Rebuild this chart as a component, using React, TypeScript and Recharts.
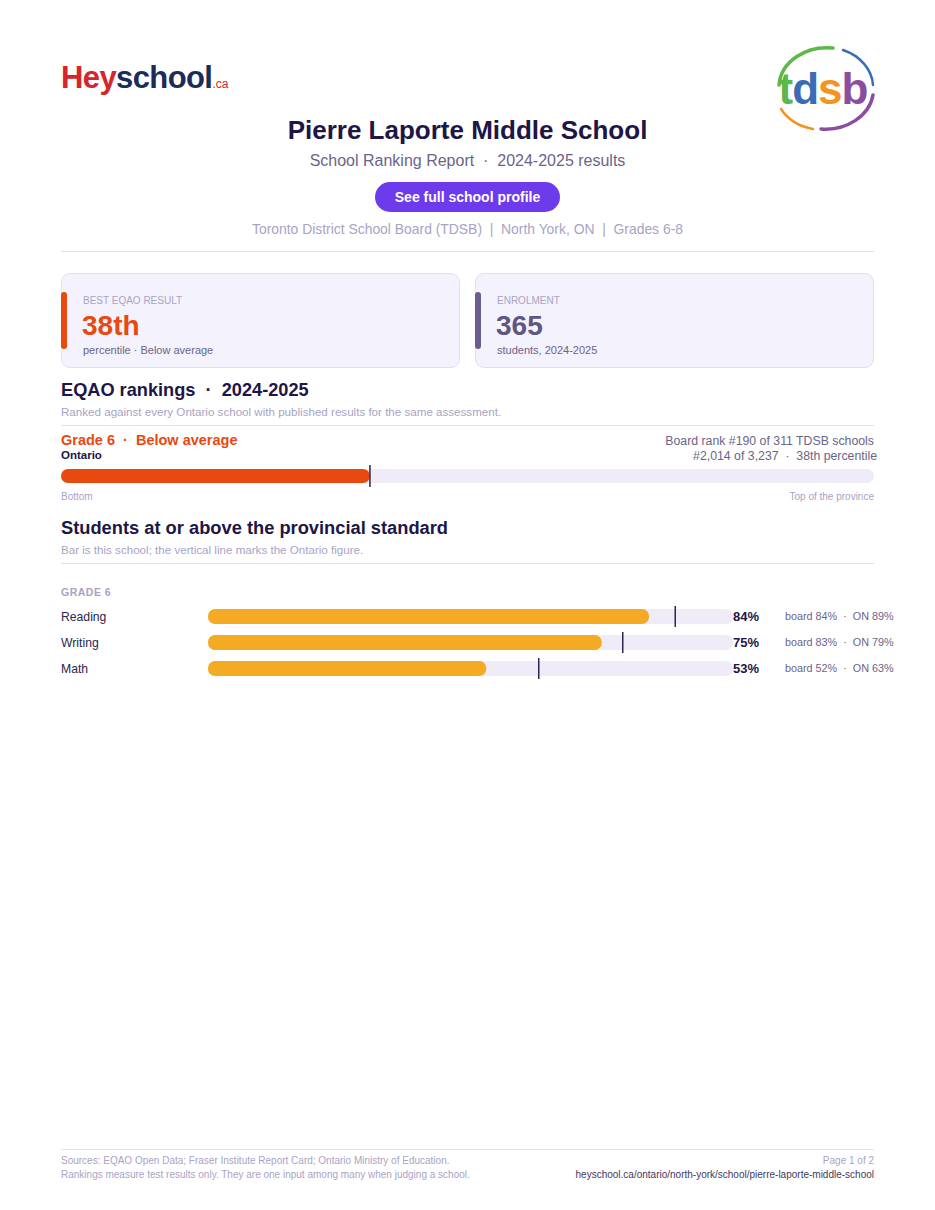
import React from 'react';
import { BarChart, Bar, XAxis, YAxis, ReferenceLine } from 'recharts';

// ranking (percentile within Ontario)
const rankLabel = ['Ontario'];
const rankPercentile = [38];

// grade 6 subjects
const subjects = ['Reading', 'Writing', 'Math'];
const schoolPct = [84, 75, 53];
const boardPct = [84, 83, 52];
const ontarioPct = [89, 79, 63];

const FONT = '"Liberation Sans", Arial, Helvetica, sans-serif';
const INK = '#201646';
const MUTED = '#6b6488';
const FAINT = '#a9a3c4';
const ORANGE = '#e8490f';
const GOLD = '#f4aa22';
const TRACK = '#efecf8';
const MARK = '#2d2450';
const NB = '\u00a0';

const rankData = rankLabel.map((name, i) => ({ name, value: rankPercentile[i] }));
const subjectData = subjects.map((subject, i) => ({
  subject,
  school: schoolPct[i],
  board: boardPct[i],
  ontario: ontarioPct[i],
}));

type TProps = {
  x?: number;
  right?: number;
  y: number;
  size: number;
  color?: string;
  weight?: number;
  center?: boolean;
  spacing?: number;
  children: React.ReactNode;
};

const T: React.FC<TProps> = ({ x, right, y, size, color = INK, weight = 400, center, spacing, children }) => (
  <div
    style={{
      position: 'absolute',
      top: y,
      left: center ? 0 : x,
      right: center ? 0 : right,
      textAlign: center ? 'center' : right !== undefined ? 'right' : 'left',
      fontSize: size,
      lineHeight: 1,
      color,
      fontWeight: weight,
      letterSpacing: spacing,
      whiteSpace: 'pre',
    }}
  >
    {children}
  </div>
);

const Rule: React.FC<{ y: number }> = ({ y }) => (
  <div style={{ position: 'absolute', left: 61, width: 813, top: y, height: 1, background: '#e4e1ef' }} />
);

const Card: React.FC<{ x: number; accent: string; label: string; value: string; valueColor: string; note: string }> = ({
  x, accent, label, value, valueColor, note,
}) => (
  <div
    style={{
      position: 'absolute',
      left: x,
      top: 273,
      width: 399,
      height: 95,
      boxSizing: 'border-box',
      background: '#f4f2fc',
      border: '1px solid #e3def5',
      borderRadius: 9,
    }}
  >
    <div style={{ position: 'absolute', left: -1, top: 18, width: 6, height: 57, background: accent, borderRadius: 3 }} />
    <T x={21} y={22} size={10} color={FAINT}>{label}</T>
    <T x={20} y={38} size={28} color={valueColor} weight={700}>{value}</T>
    <T x={21} y={71} size={11} color={MUTED}>{note}</T>
  </div>
);

const TdsbLogo: React.FC = () => (
  <svg width={104} height={90} style={{ position: 'absolute', left: 773, top: 45 }}>
    <path d="M 6 40 A 48 40 0 0 1 60 3" fill="none" stroke="#5db84a" strokeWidth={3.5} strokeLinecap="round" />
    <path d="M 70 5 A 48 40 0 0 1 100 40" fill="none" stroke="#3a6db5" strokeWidth={2.5} strokeLinecap="round" />
    <path d="M 100 50 A 48 40 0 0 1 48 84" fill="none" stroke="#8a4ea0" strokeWidth={3.5} strokeLinecap="round" />
    <path d="M 40 84 A 48 40 0 0 1 8 64" fill="none" stroke="#f39422" strokeWidth={2.5} strokeLinecap="round" />
    <text x={50} y={59} textAnchor="middle" fontFamily={FONT} fontWeight={700} fontSize={44} letterSpacing={-1}>
      <tspan fill="#5db84a">t</tspan>
      <tspan fill="#3a6db5">d</tspan>
      <tspan fill="#f39422">s</tspan>
      <tspan fill="#8a4ea0">b</tspan>
    </text>
  </svg>
);

const SubjectTick = (props: any) => {
  const { y, payload } = props;
  return (
    <text x={0} y={y} dy={4.5} fontFamily={FONT} fontSize={12.2} fill="#2d2650">
      {payload.value}
    </text>
  );
};

const ValueTick = (props: any) => {
  const { y, index } = props;
  const row = subjectData[index];
  return (
    <g>
      <text x={672} y={y} dy={4.5} fontFamily={FONT} fontSize={13} fontWeight={700} fill={INK}>
        {row.school}%
      </text>
      <text x={724} y={y} dy={4} fontFamily={FONT} fontSize={10.8} fill={MUTED}>
        {`board ${row.board}%${NB}${NB}·${NB}${NB}ON ${row.ontario}%`}
      </text>
    </g>
  );
};

const OntarioMarker = (props: any) => {
  const { x, y, width, height } = props;
  const lx = x + width;
  return <line x1={lx} x2={lx} y1={y - 3} y2={y + height + 3} stroke={MARK} strokeWidth={1.5} />;
};

export default function App() {
  return (
    <div
      style={{
        position: 'absolute',
        left: 0,
        top: 0,
        width: 935,
        height: 1210,
        background: '#fff',
        fontFamily: FONT,
        overflow: 'hidden',
      }}
    >
      {/* heyschool logo */}
      <div style={{ position: 'absolute', left: 61, top: 62, fontSize: 31, fontWeight: 700, lineHeight: 1, letterSpacing: -0.6, whiteSpace: 'nowrap' }}>
        <span style={{ color: '#d7252c' }}>Hey</span>
        <span style={{ color: '#1d2b5b' }}>school</span>
        <span style={{ color: '#d7252c', fontSize: 12, fontWeight: 400, letterSpacing: 0, marginLeft: 0 }}>.ca</span>
      </div>
      <TdsbLogo />

      <T center y={117} size={26} weight={700}>Pierre Laporte Middle School</T>
      <T center y={153} size={16} color={MUTED}>School Ranking Report  ·  2024-2025 results</T>
      <div
        style={{
          position: 'absolute',
          left: 375,
          top: 182,
          width: 185,
          height: 30,
          borderRadius: 15,
          background: '#6e3bec',
          color: '#fff',
          fontSize: 14,
          fontWeight: 700,
          lineHeight: '30px',
          textAlign: 'center',
        }}
      >
        See full school profile
      </div>
      <T center y={223} size={13.9} color={FAINT}>Toronto District School Board (TDSB)  |  North York, ON  |  Grades 6-8</T>
      <Rule y={251} />

      <Card x={61} accent={ORANGE} label="BEST EQAO RESULT" value="38th" valueColor={ORANGE} note="percentile · Below average" />
      <Card x={475} accent="#6b5e8e" label="ENROLMENT" value="365" valueColor="#5f5583" note="students, 2024-2025" />

      <T x={61} y={381} size={18.2} weight={700}>EQAO rankings  ·  2024-2025</T>
      <T x={61} y={406} size={11.6} color={FAINT}>Ranked against every Ontario school with published results for the same assessment.</T>
      <Rule y={425} />

      <T x={61} y={433} size={14.5} weight={700} color={ORANGE}>Grade 6  ·  Below average</T>
      <T x={61} y={450} size={11.5} weight={700}>Ontario</T>
      <T right={61} y={435} size={12.3} color={MUTED}>Board rank #190 of 311 TDSB schools</T>
      <T right={58} y={450} size={12.3} color={MUTED}>#2,014 of 3,237  ·  38th percentile</T>

      <div style={{ position: 'absolute', left: 61, top: 465 }}>
        <BarChart width={813} height={22} data={rankData} layout="vertical" margin={{ top: 0, right: 0, bottom: 0, left: 0 }}>
          <XAxis type="number" domain={[0, 100]} hide />
          <YAxis type="category" dataKey="name" hide />
          <Bar
            dataKey="value"
            barSize={14}
            fill={ORANGE}
            radius={7}
            background={{ fill: TRACK, radius: 7 } as any}
            isAnimationActive={false}
          />
          <ReferenceLine x={rankPercentile[0]} stroke={MARK} strokeWidth={1.5} />
        </BarChart>
      </div>
      <T x={61} y={492} size={10} color={FAINT}>Bottom</T>
      <T right={61} y={492} size={10} color={FAINT}>Top of the province</T>

      <T x={61} y={519} size={18.3} weight={700}>Students at or above the provincial standard</T>
      <T x={61} y={544} size={11.6} color={FAINT}>Bar is this school; the vertical line marks the Ontario figure.</T>
      <Rule y={563} />

      <T x={61} y={587} size={10.5} weight={700} color={FAINT} spacing={0.5}>GRADE 6</T>

      <div style={{ position: 'absolute', left: 61, top: 603 }}>
        <BarChart
          width={834}
          height={78}
          data={subjectData}
          layout="vertical"
          barSize={15}
          barGap={-15}
          barCategoryGap={0}
          margin={{ top: 0, right: 0, bottom: 0, left: 0 }}
        >
          <XAxis type="number" domain={[0, 100]} hide />
          <YAxis type="category" dataKey="subject" width={147} axisLine={false} tickLine={false} tick={<SubjectTick />} />
          <YAxis
            yAxisId="r"
            orientation="right"
            type="category"
            dataKey="subject"
            width={162}
            axisLine={false}
            tickLine={false}
            tick={<ValueTick />}
          />
          <Bar
            dataKey="school"
            fill={GOLD}
            radius={7}
            background={{ fill: TRACK, radius: 7 } as any}
            isAnimationActive={false}
          />
          <Bar dataKey="ontario" shape={<OntarioMarker />} isAnimationActive={false} />
        </BarChart>
      </div>

      <Rule y={1149} />
      <T x={61} y={1156} size={10} color={FAINT}>Sources: EQAO Open Data; Fraser Institute Report Card; Ontario Ministry of Education.</T>
      <T x={61} y={1170} size={10} color={FAINT}>Rankings measure test results only. They are one input among many when judging a school.</T>
      <T right={61} y={1156} size={10} color={FAINT}>Page 1 of 2</T>
      <T right={61} y={1170} size={10} color="#3f3860">heyschool.ca/ontario/north-york/school/pierre-laporte-middle-school</T>
    </div>
  );
}
